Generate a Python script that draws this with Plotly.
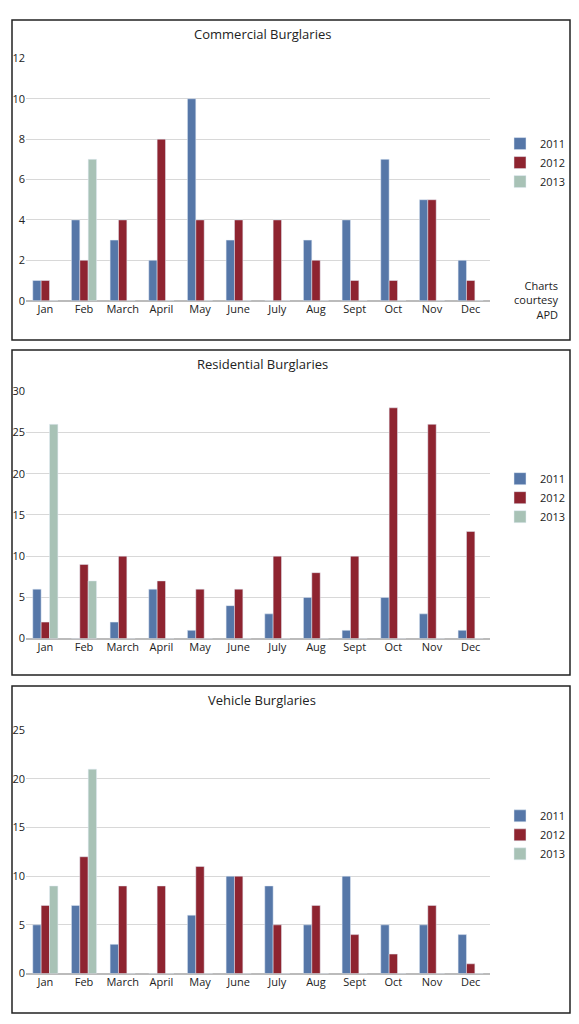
import plotly.graph_objects as go

months = ["Jan","Feb","March","April","May","June","July","Aug","Sept","Oct","Nov","Dec"]
com_2011 = [1,4,3,2,10,3,0,3,4,7,5,2]
com_2012 = [1,2,4,8,4,4,4,2,1,1,5,1]
com_2013 = [0,7,0,0,0,0,0,0,0,0,0,0]
res_2011 = [6,0,2,6,1,4,3,5,1,5,3,1]
res_2012 = [2,9,10,7,6,6,10,8,10,28,26,13]
res_2013 = [26,7,0,0,0,0,0,0,0,0,0,0]
veh_2011 = [5,7,3,0,6,10,9,5,10,5,5,4]
veh_2012 = [7,12,9,9,11,10,5,7,4,2,7,1]
veh_2013 = [9,21,0,0,0,0,0,0,0,0,0,0]
years = ["2011","2012","2013"]
colors = ["#5677A8","#8E2430","#A8C2B6"]

panels = [
    ("Commercial Burglaries", [com_2011,com_2012,com_2013], 12, 2, (51,297), (12,337)),
    ("Residential Burglaries", [res_2011,res_2012,res_2013], 30, 5, (389,640), (347,677)),
    ("Vehicle Burglaries", [veh_2011,veh_2012,veh_2013], 25, 5, (733,980), (688,1020)),
]
W, H, OFF = 563, 1008, 8
def px(x): return (x-OFF)/W
def py(y): return 1-(y-OFF)/H

fig = go.Figure()
layout = dict(width=W, height=H, margin=dict(l=0,r=0,t=0,b=0),
              paper_bgcolor="white", plot_bgcolor="white", barmode="group",
              bargap=0.35, bargroupgap=0.0, font=dict(family="Open Sans", size=11, color="#222"),
              shapes=[], annotations=[])
for i,(title, series, ymax, dt, (ytop,ybot), (btop,bbot)) in enumerate(panels):
    n = "" if i == 0 else str(i+1)
    lg = "legend" + n
    for yr, vals, c in zip(years, series, colors):
        fig.add_trace(go.Bar(x=months, y=vals, name=yr, marker_color=c,
                             xaxis="x"+n, yaxis="y"+n, legend=lg))
    layout["xaxis"+n] = dict(domain=[px(26), px(490)], anchor="y"+n, showline=False,
                             ticks="", tickfont=dict(size=11))
    layout["yaxis"+n] = dict(domain=[py(ybot), py(ytop)], anchor="x"+n, range=[0,ymax],
                             dtick=dt, showgrid=True, gridcolor="#D8D8D8", zeroline=True,
                             zerolinecolor="#BBBBBB", tickfont=dict(size=11))
    layout[lg] = dict(x=px(500), y=py(ytop+0.43*(ybot-ytop)), yanchor="middle", xanchor="left",
                      bgcolor="rgba(0,0,0,0)", font=dict(size=11))
    layout["shapes"].append(dict(type="rect", xref="paper", yref="paper",
                                 x0=px(12), x1=px(570), y0=py(bbot), y1=py(btop),
                                 line=dict(color="#222", width=1.5)))
    layout["annotations"].append(dict(text=title, xref="paper", yref="paper",
                                      x=px(262), y=py(btop+14), showarrow=False,
                                      font=dict(size=13), yanchor="middle"))
layout["annotations"].append(dict(text="Charts<br>courtesy<br>APD", xref="paper", yref="paper",
                                  x=px(560), y=py(296), xanchor="right", align="right",
                                  showarrow=False, font=dict(size=11), yanchor="middle"))
fig.update_layout(**layout)
fig.write_html("out.html")
